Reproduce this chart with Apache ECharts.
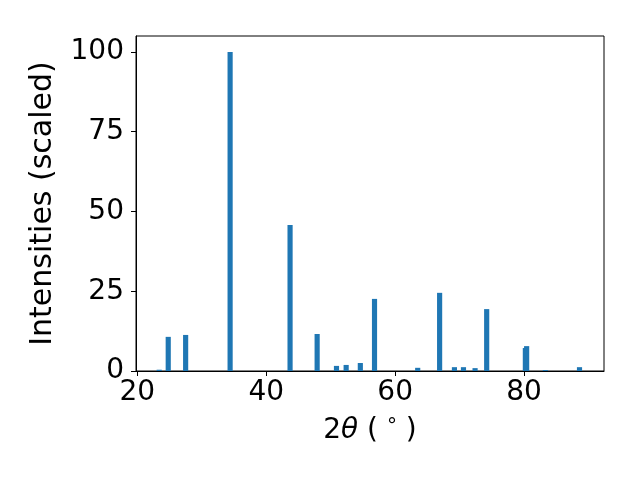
<!DOCTYPE html>
<html>
<head>
<meta charset="utf-8">
<script src="https://cdn.jsdelivr.net/npm/echarts@6/dist/echarts.min.js"></script>
<style>html,body{margin:0;padding:0;background:#fff}#c{width:640px;height:480px}</style>
</head>
<body>
<div id="c"></div>
<script>
const twoTheta = [23.4, 24.8, 27.5, 34.4, 43.7, 47.9, 50.9, 52.4, 54.6, 56.8, 63.5, 66.9, 69.2, 70.6, 72.4, 74.2, 80.2, 80.4, 83.3, 88.6];
const intensity = [0.4, 10.7, 11.3, 100, 45.8, 11.6, 1.6, 1.9, 2.5, 22.6, 1.0, 24.5, 1.2, 1.2, 0.9, 19.4, 7.2, 7.8, 0.3, 1.2];
const xTicks = [20, 40, 60, 80];
const yTicks = [0, 25, 50, 75, 100];
const BAR_W = 0.8;

const data = twoTheta.map((x, i) => [x, intensity[i]]);
const font = 'DejaVu Sans';
const FS = 28;
const chart = echarts.init(document.getElementById('c'), null, {renderer: 'canvas'});
chart.setOption({
  animation: false,
  backgroundColor: '#fff',
  grid: {left: 136, right: 36, top: 36, bottom: 109, show: true, borderColor: '#000', borderWidth: 1, backgroundColor: 'transparent'},
  xAxis: {
    type: 'value', min: 19.8, max: 92.4,
    splitLine: {show: false},
    axisLine: {show: true, lineStyle: {color: '#000', width: 1}},
    axisTick: {show: true, length: 5, lineStyle: {color: '#000'}, customValues: xTicks},
    axisLabel: {customValues: xTicks, color: '#000', fontFamily: font, fontSize: FS, margin: 8},
    name: '{n|2}{i|θ}{n| ( }{s|°}{n| )}',
    nameLocation: 'middle', nameGap: 46,
    nameTextStyle: {
      rich: {
        n: {fontFamily: font, fontSize: FS, color: '#000'},
        i: {fontFamily: font, fontSize: FS, fontStyle: 'italic', color: '#000'},
        s: {fontFamily: font, fontSize: 20, color: '#000', verticalAlign: 'top', padding: [0,0,8,0]}
      }
    }
  },
  yAxis: {
    type: 'value', min: 0, max: 105,
    splitLine: {show: false},
    axisLine: {show: true, lineStyle: {color: '#000', width: 1}},
    axisTick: {show: true, length: 5, lineStyle: {color: '#000'}, customValues: yTicks},
    axisLabel: {customValues: yTicks, color: '#000', fontFamily: font, fontSize: FS, margin: 12},
    name: 'Intensities (scaled)',
    nameLocation: 'middle', nameGap: 78, nameRotate: 90,
    nameTextStyle: {fontFamily: font, fontSize: 30, color: '#000'}
  },
  series: [{
    type: 'custom',
    data: data,
    encode: {x: 0, y: 1},
    renderItem: function (params, api) {
      const x = api.value(0), y = api.value(1);
      const p1 = api.coord([x - BAR_W / 2, y]);
      const p2 = api.coord([x + BAR_W / 2, 0]);
      return {type: 'rect', shape: {x: p1[0], y: p1[1], width: p2[0] - p1[0], height: p2[1] - p1[1]}, style: {fill: '#1f77b4'}};
    }
  }]
});
</script>
</body>
</html>
